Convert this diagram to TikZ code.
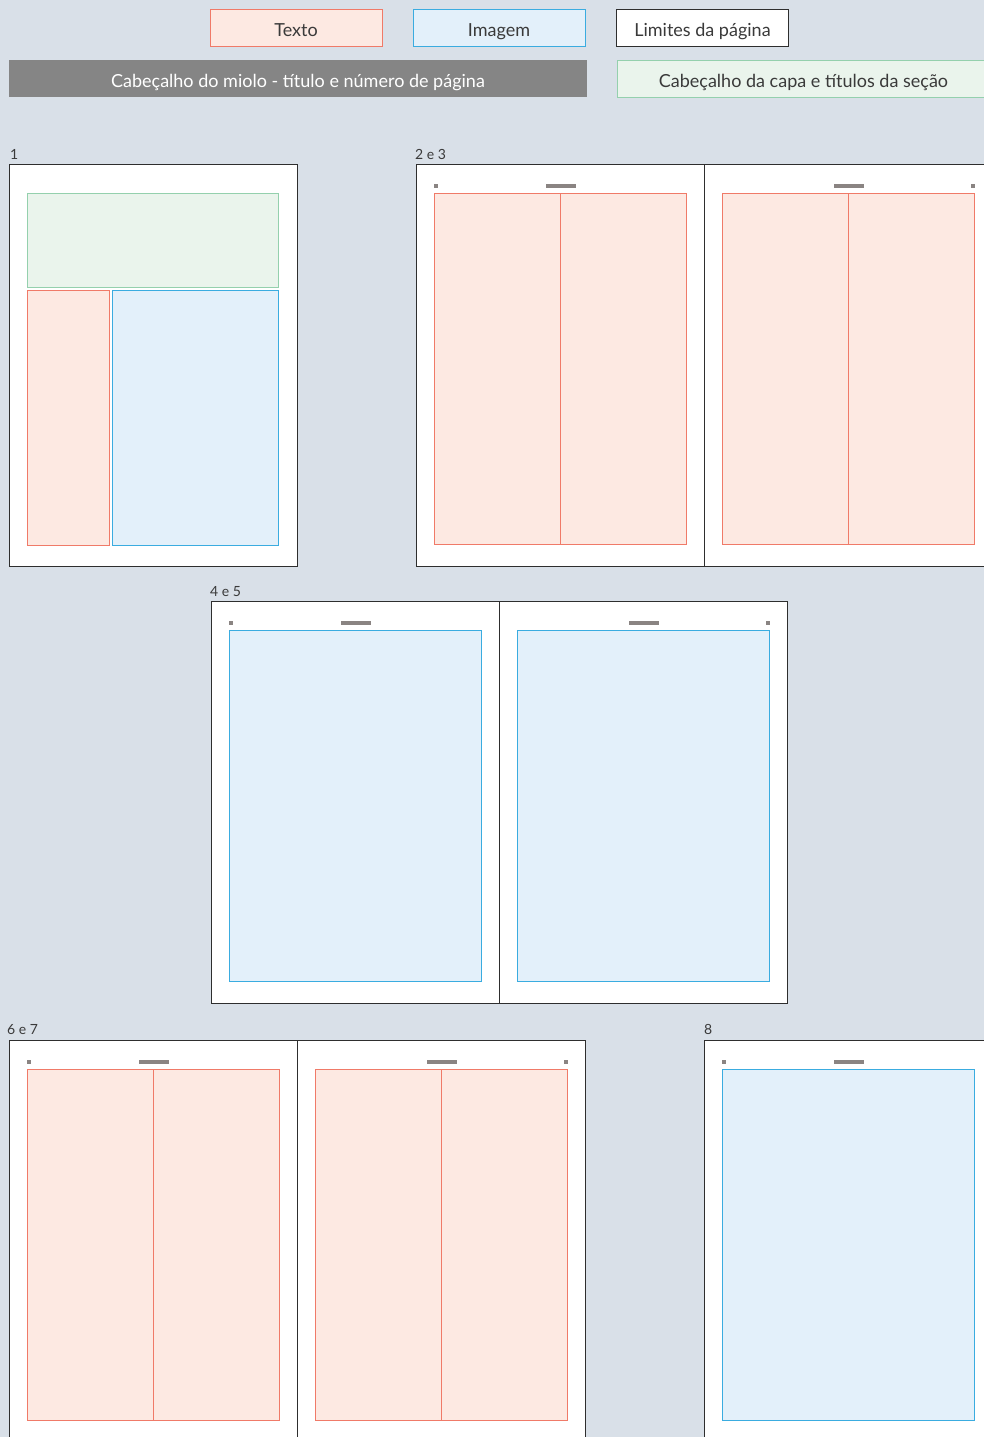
\documentclass[tikz,border=0pt]{standalone}
\usepackage{fontspec}
\setmainfont{Lato}
\usetikzlibrary{positioning}
\definecolor{bggray}{HTML}{D9E0E8}
\definecolor{textfill}{HTML}{FDE9E2}
\definecolor{textline}{HTML}{F07A68}
\definecolor{imgfill}{HTML}{E3F0FA}
\definecolor{imgline}{HTML}{3AACE0}
\definecolor{capafill}{HTML}{EAF4EC}
\definecolor{capaline}{HTML}{94D0AD}
\definecolor{headgray}{HTML}{858585}
\definecolor{markgray}{HTML}{8A8482}
\definecolor{pageline}{HTML}{2E2E2E}
\definecolor{inkgray}{HTML}{3A3A3A}

\begin{document}
\begin{tikzpicture}[
    x=1pt, y=-1pt,
    legend/.style={minimum width=172pt, minimum height=37pt, inner sep=0pt, text height=17pt, text depth=0pt, line width=1pt, text=inkgray, font=\fontsize{18}{20}\selectfont},
    textbox/.style={draw=textline, fill=textfill, line width=1pt},
    imgbox/.style={draw=imgline, fill=imgfill, line width=1pt},
    capabox/.style={draw=capaline, fill=capafill, line width=1pt},
    pagebox/.style={draw=pageline, fill=white, line width=1pt},
    headmark/.style={fill=markgray},
    pagelabel/.style={anchor=south west, inner sep=1pt, text=inkgray, font=\fontsize{14}{16}\selectfont}
  ]

  \useasboundingbox (0,0) rectangle (984,1437);
  \clip (0,0) rectangle (984,1437);
  \fill[bggray] (0,0) rectangle (984,1437);

  % legenda
  \node[legend, textbox] (texto) at (296,28.5) {Texto};
  \node[legend, imgbox] (imagem) at (499,28.5) {Imagem};
  \node[legend, draw=pageline, fill=white] (limites) at (702.5,28.5) {Limites da página};
  \node[legend, fill=headgray, text=white, minimum width=578pt] (miolo) at (298,78.5) {Cabeçalho do miolo - título e número de página};
  \node[legend, capabox, minimum width=373pt] (capa) at (803.5,79) {Cabeçalho da capa e títulos da seção};

  % folhas
  \foreach \px/\py in {9/164, 416/164, 704/164, 211/601, 499/601, 9/1040, 297/1040, 704/1040}
    \draw[pagebox] (\px,\py) rectangle ++(288,402);

  % cabeçalho do miolo
  \foreach \px/\py in {416/164, 704/164, 211/601, 499/601, 9/1040, 297/1040, 704/1040}
    \fill[headmark] (\px+130,\py+20) rectangle ++(30,4);
  \foreach \px/\py in {416/164, 211/601, 9/1040, 704/1040}
    \fill[headmark] (\px+18,\py+20) rectangle ++(4,4);
  \foreach \px/\py in {704/164, 499/601, 297/1040}
    \fill[headmark] (\px+267,\py+20) rectangle ++(4,4);

  % duas colunas de texto
  \foreach \px/\py in {416/164, 704/164, 9/1040, 297/1040} {
    \draw[textbox] (\px+18.5,\py+29.5) rectangle ++(252,351);
    \draw[textline, line width=1pt] (\px+144.5,\py+29.5) -- ++(0,351);
  }

  % imagem de página inteira
  \foreach \px/\py in {211/601, 499/601, 704/1040}
    \draw[imgbox] (\px+18.5,\py+29.5) rectangle ++(252,351);

  % capa
  \draw[capabox] (27.5,193.5) rectangle (278.5,287.5);
  \draw[textbox] (27.5,290.5) rectangle (109.5,545);
  \draw[imgbox] (112.5,290.5) rectangle (278.5,545);

  % rótulos
  \node[pagelabel] (p1) at (9,161) {1};
  \node[pagelabel] (p23) at (414,161) {2 e 3};
  \node[pagelabel] (p45) at (209,598) {4 e 5};
  \node[pagelabel] (p67) at (6,1036) {6 e 7};
  \node[pagelabel] (p8) at (703,1036) {8};

\end{tikzpicture}
\end{document}
